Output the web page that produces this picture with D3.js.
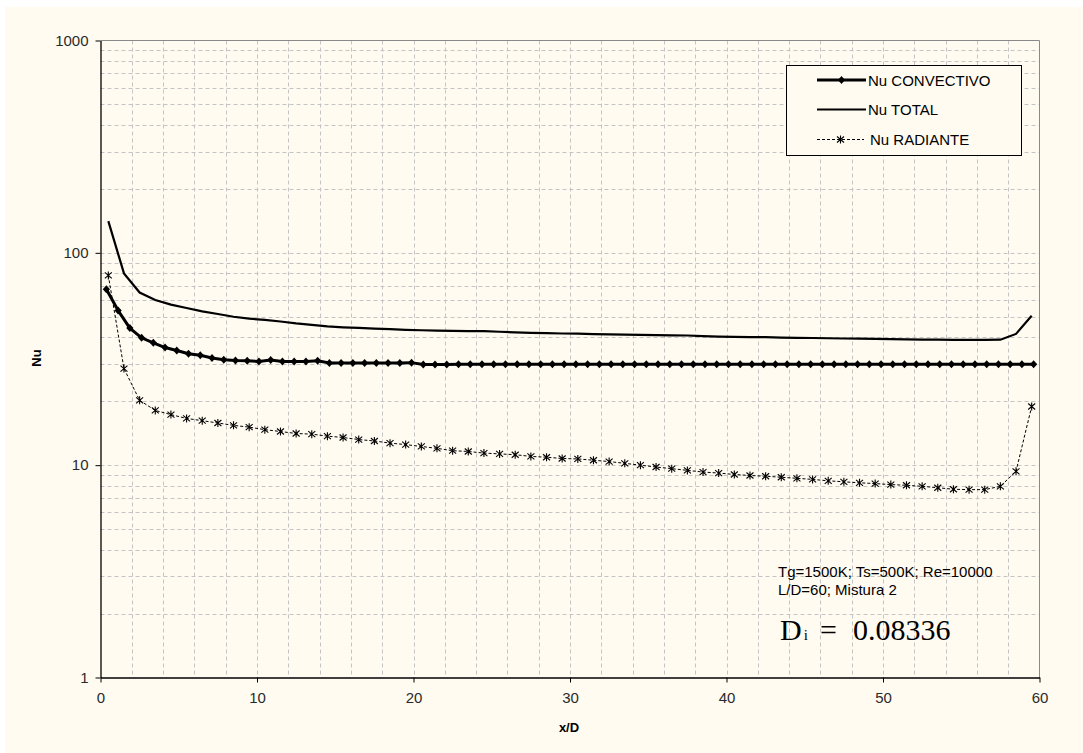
<!DOCTYPE html>
<html>
<head>
<meta charset="utf-8">
<script src="https://cdn.jsdelivr.net/npm/d3@7"></script>
<style>
    body { margin: 0; background: #ffffff; }
    svg { display: block; }
    text { font-family: "Liberation Sans", Arial, sans-serif; }
</style>
</head>
<body>
<div id="chart"></div>
<script>
// x positions (x/D) of the two sampled grids
var xConv = [0.375, 1.125, 1.875, 2.625, 3.375, 4.125, 4.875, 5.625, 6.375, 7.125,
    7.875, 8.625, 9.375, 10.125, 10.875, 11.625, 12.375, 13.125, 13.875, 14.625,
    15.375, 16.125, 16.875, 17.625, 18.375, 19.125, 19.875, 20.625, 21.375, 22.125,
    22.875, 23.625, 24.375, 25.125, 25.875, 26.625, 27.375, 28.125, 28.875, 29.625,
    30.375, 31.125, 31.875, 32.625, 33.375, 34.125, 34.875, 35.625, 36.375, 37.125,
    37.875, 38.625, 39.375, 40.125, 40.875, 41.625, 42.375, 43.125, 43.875, 44.625,
    45.375, 46.125, 46.875, 47.625, 48.375, 49.125, 49.875, 50.625, 51.375, 52.125,
    52.875, 53.625, 54.375, 55.125, 55.875, 56.625, 57.375, 58.125, 58.875, 59.625];

var xRad = [0.5, 1.5, 2.5, 3.5, 4.5, 5.5, 6.5, 7.5, 8.5, 9.5,
    10.5, 11.5, 12.5, 13.5, 14.5, 15.5, 16.5, 17.5, 18.5, 19.5,
    20.5, 21.5, 22.5, 23.5, 24.5, 25.5, 26.5, 27.5, 28.5, 29.5,
    30.5, 31.5, 32.5, 33.5, 34.5, 35.5, 36.5, 37.5, 38.5, 39.5,
    40.5, 41.5, 42.5, 43.5, 44.5, 45.5, 46.5, 47.5, 48.5, 49.5,
    50.5, 51.5, 52.5, 53.5, 54.5, 55.5, 56.5, 57.5, 58.5, 59.5];

// Nu values
var nuConvectivo = [67.3, 53.5, 44.2, 39.8, 37.7, 35.8, 34.7, 33.5, 32.9, 32.0,
    31.4, 31.1, 31.0, 30.8, 31.3, 30.8, 30.8, 30.8, 31.0, 30.3,
    30.3, 30.3, 30.3, 30.3, 30.3, 30.3, 30.4, 29.8, 29.8, 29.8,
    29.9, 29.9, 29.9, 29.9, 29.9, 29.9, 29.9, 29.9, 29.9, 29.9,
    29.9, 29.9, 29.9, 29.9, 29.9, 29.9, 29.9, 29.9, 29.9, 29.9,
    29.9, 29.9, 29.9, 29.9, 29.9, 29.9, 29.9, 29.9, 29.9, 29.9,
    29.9, 29.9, 29.9, 29.9, 29.9, 29.9, 29.9, 29.9, 29.9, 29.9,
    29.9, 29.9, 29.9, 29.9, 29.9, 29.9, 29.9, 29.9, 29.9, 29.9];

var nuTotal = [141, 80, 65, 60, 57, 55, 53, 51.5, 50, 49,
    48.3, 47.5, 46.5, 45.8, 45, 44.6, 44.3, 44, 43.7, 43.4,
    43.2, 43.0, 42.9, 42.8, 42.8, 42.5, 42.2, 42.0, 41.9, 41.7,
    41.6, 41.4, 41.3, 41.2, 41.1, 41.0, 40.9, 40.8, 40.5, 40.3,
    40.2, 40.1, 40.1, 39.9, 39.8, 39.7, 39.6, 39.5, 39.4, 39.3,
    39.2, 39.1, 39.0, 39.0, 38.9, 38.9, 38.9, 39.0, 41.5, 50.5];

var nuRadiante = [78.3, 28.5, 20.2, 18.1, 17.3, 16.6, 16.2, 15.8, 15.4, 15.1,
    14.7, 14.4, 14.1, 14.0, 13.7, 13.5, 13.2, 13.0, 12.7, 12.5,
    12.25, 12.0, 11.7, 11.6, 11.4, 11.3, 11.2, 11.0, 10.9, 10.75,
    10.7, 10.55, 10.4, 10.2, 10.0, 9.80, 9.63, 9.45, 9.28, 9.18,
    9.04, 8.94, 8.87, 8.77, 8.67, 8.57, 8.44, 8.35, 8.26, 8.19,
    8.10, 8.04, 7.95, 7.83, 7.70, 7.67, 7.67, 7.95, 9.35, 18.9];

// axis ticks
var xTicks = [0, 10, 20, 30, 40, 50, 60];
var yTicks = [1, 10, 100, 1000];
var xGrid = [2, 4, 6, 8, 10, 12, 14, 16, 18, 20, 22, 24, 26, 28, 30, 32, 34, 36, 38, 40,
    42, 44, 46, 48, 50, 52, 54, 56, 58];
var yGrid = [2, 3, 4, 5, 6, 7, 8, 9, 10, 20, 30, 40, 50, 60, 70, 80, 90, 100,
    200, 300, 400, 500, 600, 700, 800, 900];

var legendLabels = ["Nu CONVECTIVO", "Nu TOTAL", "Nu RADIANTE"];

var width = 1083, height = 753;
var plot = { left: 100.5, right: 1039.5, top: 40.5, bottom: 677.5 };
var bg = "#fffbf1";

var svg = d3.select("#chart").append("svg")
    .attr("width", width)
    .attr("height", height);

// cream chart area
svg.append("rect")
    .attr("x", 5).attr("y", 7)
    .attr("width", width - 5).attr("height", height - 7)
    .attr("fill", bg);

var x = d3.scaleLinear().domain([0, 60]).range([plot.left, plot.right]);
var y = d3.scaleLog().domain([1, 1000]).range([plot.bottom, plot.top]);

// dashed grid
var grid = svg.append("g").attr("class", "grid")
    .attr("stroke", "#c4c4c4")
    .attr("stroke-dasharray", "4,3")
    .attr("stroke-width", 1);

grid.selectAll("line.v").data(xGrid).enter().append("line")
    .attr("class", "v")
    .attr("x1", function(d) { return Math.round(x(d)) + 0.5; })
    .attr("x2", function(d) { return Math.round(x(d)) + 0.5; })
    .attr("y1", plot.top).attr("y2", plot.bottom);

grid.selectAll("line.h").data(yGrid).enter().append("line")
    .attr("class", "h")
    .attr("y1", function(d) { return Math.round(y(d)) + 0.5; })
    .attr("y2", function(d) { return Math.round(y(d)) + 0.5; })
    .attr("x1", plot.left).attr("x2", plot.right);

// top and right frame in gray
svg.append("path")
    .attr("d", "M" + plot.left + "," + plot.top + "H" + plot.right + "V" + plot.bottom)
    .attr("fill", "none")
    .attr("stroke", "#8a8a8a");

// axes
var xAxis = d3.axisBottom(x).tickValues(xTicks).tickSize(5).tickPadding(10)
    .tickFormat(d3.format("d"));
var yAxis = d3.axisLeft(y).tickValues(yTicks).tickSize(5).tickPadding(7)
    .tickFormat(d3.format("d"));

function styleAxis(g) {
    g.select(".domain").attr("stroke", "#000").attr("stroke-width", 1.3);
    g.selectAll(".tick line").attr("stroke", "#000");
    g.selectAll(".tick text")
        .attr("fill", "#2a2a2a")
        .style("font-size", "15px")
        .style("font-family", "'Liberation Sans', Arial, sans-serif");
}

svg.append("g")
    .attr("transform", "translate(0," + plot.bottom + ")")
    .call(xAxis.tickSizeOuter(0))
    .call(styleAxis);

svg.append("g")
    .attr("transform", "translate(" + plot.left + ",0)")
    .call(yAxis.tickSizeOuter(0))
    .call(styleAxis);

// axis titles
svg.append("text")
    .attr("text-anchor", "middle")
    .attr("transform", "translate(41,358)rotate(-90)")
    .style("font-size", "13px").style("font-weight", "bold")
    .text("Nu");

svg.append("text")
    .attr("text-anchor", "middle")
    .attr("x", 569).attr("y", 732)
    .style("font-size", "13px").style("font-weight", "bold")
    .text("x/D");

// line generators
var clip = svg.append("clipPath").attr("id", "plotClip")
    .append("rect")
    .attr("x", plot.left).attr("y", plot.top)
    .attr("width", plot.right - plot.left).attr("height", plot.bottom - plot.top);

var lineOf = function(xs) {
    return d3.line()
        .x(function(d, i) { return x(xs[i]); })
        .y(function(d) { return y(d); });
};

var series = svg.append("g").attr("class", "series");

// Nu RADIANTE - thin dashed with asterisks
series.append("path")
    .datum(nuRadiante)
    .attr("d", lineOf(xRad))
    .attr("fill", "none")
    .attr("stroke", "#000")
    .attr("stroke-width", 1)
    .attr("stroke-dasharray", "3,2");

var asterisk = "M0,-4V4M-3.5,-3L3.5,3M-3.5,3L3.5,-3";

series.selectAll("path.rad").data(nuRadiante).enter().append("path")
    .attr("class", "rad")
    .attr("d", asterisk)
    .attr("transform", function(d, i) { return "translate(" + x(xRad[i]) + "," + y(d) + ")"; })
    .attr("stroke", "#000")
    .attr("stroke-width", 1.1)
    .attr("fill", "none");

// Nu TOTAL - plain line
series.append("path")
    .datum(nuTotal)
    .attr("d", lineOf(xRad))
    .attr("fill", "none")
    .attr("stroke", "#000")
    .attr("stroke-width", 2.2);

// Nu CONVECTIVO - heavy line with diamonds
series.append("path")
    .datum(nuConvectivo)
    .attr("d", lineOf(xConv))
    .attr("fill", "none")
    .attr("stroke", "#000")
    .attr("stroke-width", 3);

var diamond = "M0,-4L3.6,0L0,4L-3.6,0Z";

series.selectAll("path.conv").data(nuConvectivo).enter().append("path")
    .attr("class", "conv")
    .attr("d", diamond)
    .attr("transform", function(d, i) { return "translate(" + x(xConv[i]) + "," + y(d) + ")"; })
    .attr("fill", "#000");

// legend
var legend = svg.append("g").attr("class", "legend");

legend.append("rect")
    .attr("x", 786.5).attr("y", 65.5)
    .attr("width", 235).attr("height", 90)
    .attr("fill", bg)
    .attr("stroke", "#000");

var rowY = [80, 109.5, 139.5];

// convectivo sample
legend.append("line")
    .attr("x1", 817).attr("x2", 866).attr("y1", rowY[0]).attr("y2", rowY[0])
    .attr("stroke", "#000").attr("stroke-width", 3);
legend.append("path")
    .attr("d", diamond)
    .attr("transform", "translate(841.5," + rowY[0] + ")");

// total sample
legend.append("line")
    .attr("x1", 817).attr("x2", 866).attr("y1", rowY[1]).attr("y2", rowY[1])
    .attr("stroke", "#000").attr("stroke-width", 2.2);

// radiante sample
legend.append("line")
    .attr("x1", 817).attr("x2", 864).attr("y1", rowY[2]).attr("y2", rowY[2])
    .attr("stroke", "#000").attr("stroke-width", 1)
    .attr("stroke-dasharray", "3,2");
legend.append("path")
    .attr("d", asterisk)
    .attr("transform", "translate(840.5," + rowY[2] + ")")
    .attr("stroke", "#000").attr("stroke-width", 1.1).attr("fill", "none");

legend.selectAll("text.lbl").data(legendLabels).enter().append("text")
    .attr("class", "lbl")
    .attr("x", function(d, i) { return i === 2 ? 870 : 868; })
    .attr("y", function(d, i) { return rowY[i] + 5.5; })
    .style("font-size", "15px")
    .attr("fill", "#000")
    .text(function(d) { return d; });

// annotation
var note = svg.append("g").attr("class", "note").attr("fill", "#000");
note.append("text").attr("x", 778).attr("y", 577)
    .style("font-size", "15px")
    .text("Tg=1500K; Ts=500K; Re=10000");
note.append("text").attr("x", 778).attr("y", 595)
    .style("font-size", "15px")
    .text("L/D=60; Mistura 2");

var di = note.append("text").attr("x", 780).attr("y", 640)
    .style("font-family", "'Liberation Serif', 'Times New Roman', serif")
    .style("font-size", "30px");
di.append("tspan").text("D");
di.append("tspan").style("font-size", "15px").attr("dx", 2).text("i");
di.append("tspan").attr("x", 820).text("=");
di.append("tspan").attr("x", 853).text("0.08336");
</script>
</body>
</html>
